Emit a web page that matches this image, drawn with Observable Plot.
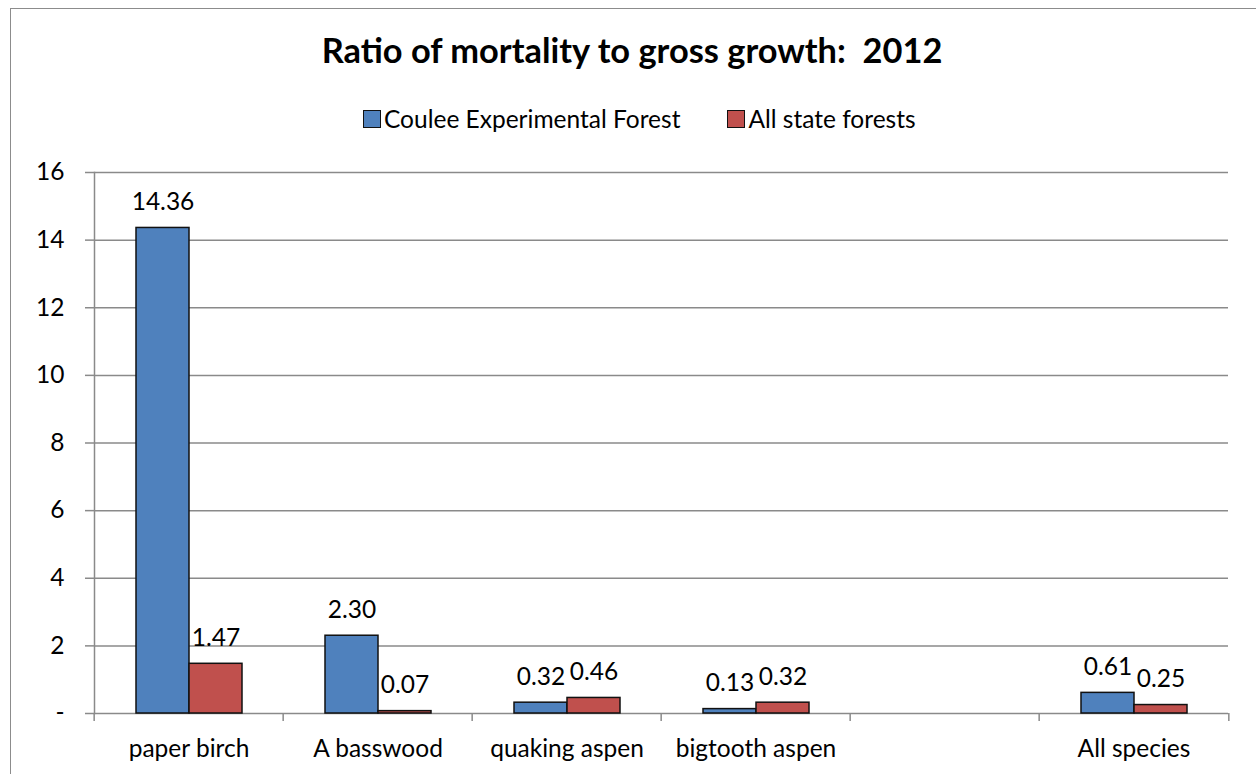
<!DOCTYPE html>
<html>
<head>
<meta charset="utf-8">
<script src="https://cdn.jsdelivr.net/npm/d3@7"></script>
<script src="https://cdn.jsdelivr.net/npm/@observablehq/plot@0.6"></script>
<style>
  html, body { margin: 0; padding: 0; background: #fff; overflow: hidden; }
  body { width: 1256px; height: 774px; position: relative; font-family: Lato, "Open Sans", sans-serif; color: #000; }
  #border { position: absolute; left: 10px; top: 8px; width: 1400px; height: 1000px; border: 1.5px solid #8c8c8c; box-sizing: border-box; }
  #title { position: absolute; left: 0; width: 1264px; top: 29px; text-align: center; font-weight: bold; font-size: 34.4px; line-height: 42px; }
  #legend { position: absolute; left: 363px; top: 104px; display: flex; align-items: center; font-size: 24.5px; line-height: 30px; white-space: nowrap; }
  #legend .item { display: flex; align-items: center; margin-right: 47px; }
  #legend .sw { width: 18px; height: 18px; border: 1.5px solid #111; margin-right: 3px; box-sizing: border-box; }
  #chart { position: absolute; left: 0; top: 140px; }
</style>
</head>
<body>
<div id="border"></div>
<div id="title">Ratio of mortality to gross growth:&nbsp; 2012</div>
<div id="legend"></div>
<div id="chart"></div>
<script>
// Species groups (one empty slot before the all-species total)
const categories = ["paper birch", "A basswood", "quaking aspen", "bigtooth aspen", " ", "All species"];
const series = ["Coulee Experimental Forest", "All state forests"];
const couleeValues = [14.36, 2.30, 0.32, 0.13, null, 0.61];
const stateValues = [1.47, 0.07, 0.46, 0.32, null, 0.25];
const yTicks = [0, 2, 4, 6, 8, 10, 12, 14, 16];
const colors = ["#4F81BD", "#C0504D"];

// one row per category and series; the empty slot keeps null values so its facet still exists
const rows = [];
categories.forEach((c, i) => {
  rows.push({category: c, series: series[0], value: couleeValues[i]});
  rows.push({category: c, series: series[1], value: stateValues[i]});
});
const valued = rows.filter(d => d.value != null);

// Legend
const legend = document.getElementById("legend");
series.forEach((s, i) => {
  const item = document.createElement("div");
  item.className = "item";
  const sw = document.createElement("div");
  sw.className = "sw";
  sw.style.background = colors[i];
  const label = document.createElement("span");
  label.textContent = s;
  item.appendChild(sw);
  item.appendChild(label);
  legend.appendChild(item);
});

const width = 1256, height = 634;
const marginLeft = 92, marginRight = 26, marginTop = 32, marginBottom = 61;
const step = (width - marginLeft - marginRight) / categories.length;
const gray = "#8a8a8a";
const fontSize = 24.5;

const chart = Plot.plot({
  width, height, marginLeft, marginRight, marginTop, marginBottom,
  style: {fontFamily: "Lato, 'Open Sans', sans-serif", fontSize: fontSize + "px", color: "#000", background: "transparent"},
  fx: {domain: categories, padding: 0, axis: null, label: null},
  x: {domain: series, paddingInner: 0, paddingOuter: 0.755, axis: null},
  y: {domain: [0, 16], axis: null, label: null},
  color: {domain: series, range: colors},
  marks: [
    Plot.gridY(yTicks, {stroke: gray, strokeOpacity: 1, strokeWidth: 1.5}),
    Plot.frame({anchor: "left", stroke: gray, strokeWidth: 1.5, facetAnchor: "left"}),
    Plot.axisY({ticks: yTicks, tickSize: 9, tickPadding: 21, stroke: gray, strokeWidth: 1.5, label: null,
      tickFormat: d => d === 0 ? "-" : String(d), fill: "#000", fontSize}),
    // category boundary ticks below the axis
    Plot.axisFx({anchor: "bottom", label: null, tickSize: 8, dx: -step / 2, stroke: gray, strokeWidth: 1.5, tickFormat: () => ""}),
    Plot.axisFx({anchor: "bottom", label: null, ticks: [categories[categories.length - 1]], tickSize: 8, dx: step / 2, stroke: gray, strokeWidth: 1.5, tickFormat: () => ""}),
    Plot.axisFx({anchor: "bottom", label: null, tickSize: 0, tickPadding: 26, fill: "#000", fontSize}),
    Plot.barY(rows, {fx: "category", x: "series", y: "value", fill: "series", stroke: "#111", strokeWidth: 1.5}),
    Plot.text(valued, {fx: "category", x: "series", y: "value", text: d => d.value.toFixed(2),
      lineAnchor: "bottom", dy: -18, fill: "#000", fontSize})
  ]
});
document.getElementById("chart").appendChild(chart);
</script>
</body>
</html>
